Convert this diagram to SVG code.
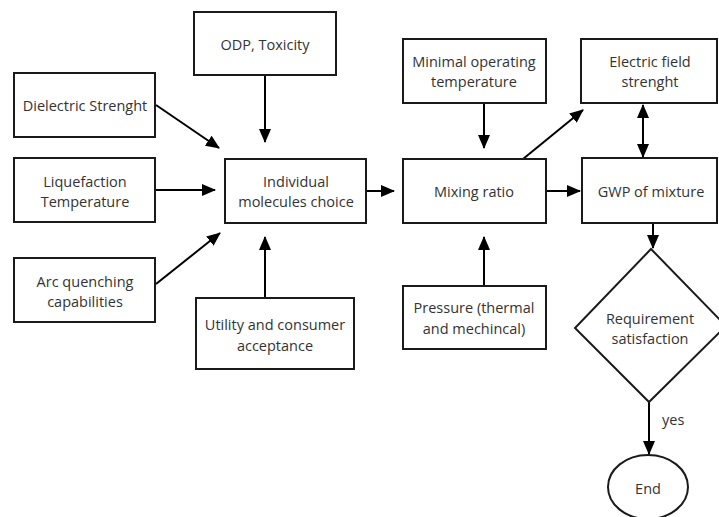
<svg xmlns="http://www.w3.org/2000/svg" width="719" height="517" viewBox="0 0 719 517">
<defs>
<marker id="ah" markerUnits="userSpaceOnUse" markerWidth="14" markerHeight="12" refX="13" refY="6" orient="auto-start-reverse">
<path d="M0,0 L14,6 L0,12 Z" fill="#000"/>
</marker>
<style>
.b{fill:#fff;stroke:#1a1a1a;stroke-width:2}
.t{font-family:"Open Sans","Liberation Sans",sans-serif;font-size:14.5px;fill:#333;text-anchor:middle;dominant-baseline:central}
.c{stroke:#000;stroke-width:2;fill:none;marker-end:url(#ah)}
</style>
</defs>
<rect width="719" height="517" fill="#fff"/>
<g id="connectors">
<line class="c" x1="156" y1="105" x2="219" y2="148"/>
<line class="c" x1="156" y1="190" x2="215" y2="190"/>
<line class="c" x1="156" y1="284" x2="220" y2="233"/>
<line class="c" x1="265" y1="75" x2="265" y2="142"/>
<line class="c" x1="265" y1="298" x2="265" y2="237"/>
<line class="c" x1="366" y1="191" x2="394" y2="191"/>
<line class="c" x1="484" y1="103" x2="484" y2="148"/>
<line class="c" x1="484" y1="286" x2="484" y2="237"/>
<line class="c" x1="523" y1="159" x2="583" y2="110"/>
<line class="c" x1="546" y1="191" x2="580" y2="191"/>
<line class="c" x1="643" y1="105" x2="643" y2="157" marker-start="url(#ah)"/>
<line class="c" x1="653" y1="223" x2="653" y2="248"/>
<line class="c" x1="649" y1="402" x2="649" y2="454"/>
<text x="662" y="419" class="t" style="text-anchor:start">yes</text>
</g>
<g id="dielectric"><rect class="b" x="14" y="73" width="141" height="64"/><text class="t" x="85" y="105">Dielectric Strenght</text></g>
<g id="liquefaction"><rect class="b" x="14" y="158" width="141" height="64"/><text class="t" x="85" y="181">Liquefaction</text><text class="t" x="85" y="201">Temperature</text></g>
<g id="arc"><rect class="b" x="14" y="258" width="141" height="64"/><text class="t" x="85" y="281">Arc quenching</text><text class="t" x="85" y="301">capabilities</text></g>
<g id="odp"><rect class="b" x="194" y="12" width="142" height="63"/><text class="t" x="265" y="44">ODP, Toxicity</text></g>
<g id="individual"><rect class="b" x="225" y="159" width="141" height="64"/><text class="t" x="296" y="181">Individual</text><text class="t" x="296" y="201">molecules choice</text></g>
<g id="utility"><rect class="b" x="196" y="298" width="158" height="71"/><text class="t" x="275" y="324">Utility and consumer</text><text class="t" x="275" y="345">acceptance</text></g>
<g id="minimal"><rect class="b" x="403" y="39" width="143" height="64"/><text class="t" x="474" y="61">Minimal operating</text><text class="t" x="474" y="81">temperature</text></g>
<g id="mixing"><rect class="b" x="403" y="159" width="143" height="64"/><text class="t" x="474" y="191">Mixing ratio</text></g>
<g id="pressure"><rect class="b" x="403" y="286" width="143" height="63"/><text class="t" x="474" y="307">Pressure (thermal</text><text class="t" x="474" y="328">and mechincal)</text></g>
<g id="electric"><rect class="b" x="581" y="39" width="136" height="64"/><text class="t" x="650" y="61">Electric field</text><text class="t" x="650" y="81">strenght</text></g>
<g id="gwp"><rect class="b" x="582" y="158" width="135" height="65"/><text class="t" x="651" y="191">GWP of mixture</text></g>
<g id="requirement"><polygon class="b" points="651,249 726,326 649,402 575,328"/><text class="t" x="650" y="318">Requirement</text><text class="t" x="650" y="338">satisfaction</text></g>
<g id="end"><ellipse class="b" cx="648" cy="487" rx="40" ry="32"/><text class="t" x="648" y="488">End</text></g>
</svg>
